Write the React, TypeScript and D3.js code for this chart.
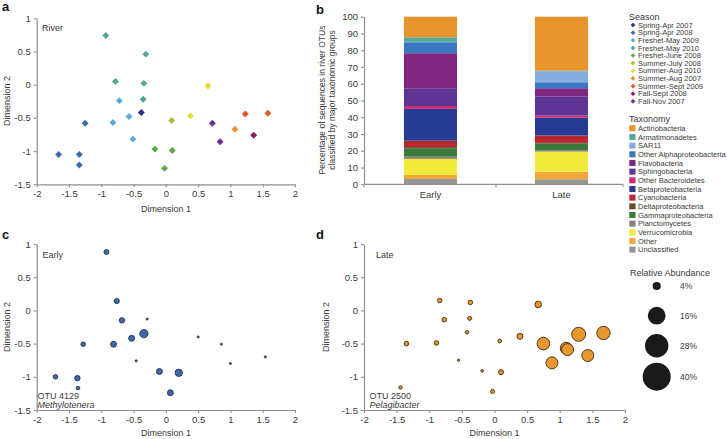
import React, { useEffect, useRef } from "react";
import * as d3 from "d3";

// ---------- Panel a: river samples (NMDS) ----------
const seasonNames = [
  "Spring-Apr 2007", "Spring-Apr 2008", "Freshet-May 2009", "Freshet-May 2010",
  "Freshet-June 2008", "Summer-July 2008", "Summer-Aug 2010", "Summer-Aug 2007",
  "Summer-Sept 2009", "Fall-Sept 2008", "Fall-Nov 2007",
];
const seasonColors = [
  "#2a2f86", "#3a6ab6", "#5aa8dc", "#4ea59a", "#5aab45", "#a9c23c",
  "#e6dc35", "#e8912d", "#e05a28", "#8a1f5e", "#6a2d96",
];
const riverDim1 = [-0.93, -0.31, -0.78, -0.34, -0.35, -0.72, -0.57, -0.82, -0.51, -0.38, -1.25, -1.66, -1.34, -1.34, 0.09, -0.17, 0.10, -0.02, 0.38, 0.65, 0.72, 0.84, 1.07, 1.23, 1.58, 1.36];
const riverDim2 = [0.74, 0.46, 0.05, 0.02, -0.22, -0.24, -0.48, -0.57, -0.82, -0.42, -0.58, -1.05, -1.05, -1.21, -0.54, -0.97, -0.99, -1.26, -0.47, -0.02, -0.58, -0.86, -0.67, -0.44, -0.43, -0.76];
const riverSeason = [3, 3, 3, 3, 3, 2, 2, 2, 2, 0, 1, 1, 1, 1, 5, 4, 4, 4, 6, 6, 10, 10, 7, 8, 8, 9];

// ---------- Panel b: taxonomy stacked bars ----------
const groups = ["Early", "Late"];
const taxa = [
  "Actinobacteria", "Armatimonadetes", "SAR11", "Other Alphaproteobacteria",
  "Flavobacteria", "Sphingobacteria", "Other Bacteroidetes", "Betaproteobacteria",
  "Cyanobacteria", "Deltaproteobacteria", "Gammaproteobacteria", "Planctomycetes",
  "Verrucomicrobia", "Other", "Unclassified",
];
const taxaColors = [
  "#e8952f", "#52a89a", "#86addf", "#3a78c4", "#82277f", "#5e3596", "#cf2a6c",
  "#263c94", "#b82830", "#6b4a2a", "#3a7a3a", "#8a7e76", "#f2ea3a", "#f0a83a", "#959595",
];
const earlyPct = [12.3, 2.7, 0.2, 6.6, 20.9, 10.6, 1.7, 19.0, 3.8, 0.7, 5.0, 1.3, 9.6, 2.4, 3.2];
const latePct = [32.2, 0.3, 6.6, 3.6, 4.9, 11.4, 1.3, 10.6, 4.4, 0.4, 4.0, 0.8, 12.0, 4.5, 3.0];
const pctTicks = [0, 10, 20, 30, 40, 50, 60, 70, 80, 90, 100];

// ---------- Panel c: OTU 4129 Methylotenera (Early) ----------
const earlyDim1 = [-0.92, -0.76, -0.68, -0.34, -0.53, -0.81, -1.28, -1.71, -1.37, -1.36, -0.10, 0.20, 0.07, -0.29, 0.50, 0.86, 1.00, 1.54, -0.46];
const earlyDim2 = [0.88, 0.14, -0.15, -0.35, -0.42, -0.51, -0.51, -1.0, -1.02, -1.17, -0.92, -0.94, -1.24, -0.13, -0.40, -0.51, -0.80, -0.70, -0.76];
const earlyAbund = [1.35, 1.45, 1.6, 3.8, 1.95, 1.95, 1.15, 1.15, 1.6, 0.7, 1.95, 2.96, 1.95, 0.25, 0.25, 0.25, 0.25, 0.25, 0.25];

// ---------- Panel d: OTU 2500 Pelagibacter (Late) ----------
const lateDim1 = [-0.84, -0.37, 0.67, -0.77, -0.38, -0.42, -1.35, -0.89, 0.08, 0.39, 0.75, 1.10, 1.12, 1.29, 1.67, 1.43, 0.88, -0.55, -0.19, 0.10, -0.03, -1.44];
const lateDim2 = [0.15, 0.12, 0.09, -0.14, -0.12, -0.33, -0.50, -0.49, -0.46, -0.39, -0.50, -0.57, -0.59, -0.36, -0.34, -0.68, -0.79, -0.75, -0.91, -0.93, -1.22, -1.16];
const lateAbund = [1.15, 1.15, 2.35, 1.15, 0.87, 0.62, 1.15, 1.15, 0.7, 1.95, 8.6, 7.8, 7.8, 10.6, 9.7, 7.8, 7.8, 0.3, 0.37, 1.35, 0.87, 0.62];

const abundLegend = [4, 16, 28, 40];
const dimTicksX = [-2, -1.5, -1, -0.5, 0, 0.5, 1, 1.5, 2];
const dimTicksY = [-1.5, -1, -0.5, 0, 0.5, 1];

const FONT = "'Liberation Sans', Arial, Helvetica, sans-serif";
const AXIS = "#8f8f8f";
const TXT = "#3a3a3a";

export default function App() {
  const ref = useRef<SVGSVGElement>(null);

  useEffect(() => {
    const svg = d3.select(ref.current);
    svg.selectAll("*").remove();
    svg.attr("font-family", FONT);

    const styleAxis = (g: any) => {
      g.attr("font-family", FONT).attr("font-size", 9.5);
      g.select(".domain").attr("stroke", AXIS).attr("stroke-width", 1.2);
      g.selectAll(".tick line").attr("stroke", AXIS).attr("stroke-width", 1.1);
      g.selectAll(".tick text").attr("fill", TXT);
    };

    const dimAxes = (x: any, y: any) => {
      const gx = svg.append("g").attr("transform", `translate(0,${y.range()[0]})`)
        .call(d3.axisBottom(x).tickValues(dimTicksX).tickSize(3).tickSizeOuter(0).tickFormat((d: any) => String(d)));
      styleAxis(gx);
      const gy = svg.append("g").attr("transform", `translate(${x.range()[0]},0)`)
        .call(d3.axisLeft(y).tickValues(dimTicksY).tickSize(3).tickSizeOuter(0).tickFormat((d: any) => String(d)));
      styleAxis(gy);
    };

    const text = (x: number, y: number, s: string, opts: any = {}) => {
      const t = svg.append("text").attr("x", x).attr("y", y).text(s)
        .attr("font-size", opts.size ?? 9).attr("fill", opts.fill ?? TXT)
        .attr("text-anchor", opts.anchor ?? "start");
      if (opts.bold) t.attr("font-weight", "bold");
      if (opts.italic) t.attr("font-style", "italic");
      if (opts.rotate) t.attr("transform", `rotate(-90,${x},${y})`);
      return t;
    };

    const rScale = (v: number) => 2.15 * Math.sqrt(v);
    const diamond = (size: number) => d3.symbol().type(d3.symbolSquare).size(size)();

    // ---------- Panel a ----------
    const xA = d3.scaleLinear().domain([-2, 2]).range([36.7, 295]);
    const yA = d3.scaleLinear().domain([-1.5, 1]).range([184.3, 18.3]);
    dimAxes(xA, yA);
    svg.append("g").selectAll("path").data(riverDim1).join("path")
      .attr("d", diamond(24))
      .attr("transform", (d, i) => `translate(${xA(d)},${yA(riverDim2[i])}) rotate(45)`)
      .attr("fill", (d, i) => seasonColors[riverSeason[i]]);
    text(2, 11, "a", { size: 13, bold: true, fill: "#111" });
    text(42, 31, "River", { size: 9 });
    text(166, 212, "Dimension 1", { size: 9, anchor: "middle" });
    text(10, 101, "Dimension 2", { size: 9, anchor: "middle", rotate: true });

    // ---------- Panel b ----------
    const yB = d3.scaleLinear().domain([0, 100]).range([184.3, 16.7]);
    const xB = d3.scaleBand().domain(groups).range([364, 623]).paddingInner(0.595).paddingOuter(0.286).align(0.533);
    const series = [earlyPct, latePct];
    groups.forEach((g, gi) => {
      const vals = series[gi];
      let cum = 0;
      for (let k = taxa.length - 1; k >= 0; k--) {
        const v0 = cum, v1 = cum + vals[k];
        cum = v1;
        if (vals[k] <= 0) continue;
        svg.append("rect").attr("x", xB(g)!).attr("width", xB.bandwidth())
          .attr("y", yB(v1)).attr("height", yB(v0) - yB(v1)).attr("fill", taxaColors[k]);
      }
    });
    const gyB = svg.append("g").attr("transform", "translate(364,0)")
      .call(d3.axisLeft(yB).tickValues(pctTicks).tickSize(3).tickSizeOuter(0));
    styleAxis(gyB);
    const bx0 = 364, bx1 = 623;
    const bMid = (xB("Late")! - (xB.step() * xB.paddingInner()) / 2 + xB("Early")! + xB.bandwidth() + (xB.step() * xB.paddingInner()) / 2) / 2;
    svg.append("line").attr("x1", bx0).attr("x2", bx1).attr("y1", yB(0)).attr("y2", yB(0))
      .attr("stroke", AXIS).attr("stroke-width", 1.2);
    [bx0, bMid, bx1].forEach((tx) => {
      svg.append("line").attr("x1", tx).attr("x2", tx).attr("y1", yB(0)).attr("y2", yB(0) + 3)
        .attr("stroke", AXIS).attr("stroke-width", 1.1);
    });
    groups.forEach((g) => text(xB(g)! + xB.bandwidth() / 2, 197.5, g, { size: 9.5, anchor: "middle" }));
    text(316, 14, "b", { size: 13, bold: true, fill: "#111" });
    text(325, 100, "Percentage of sequences in river OTUs", { size: 8.5, anchor: "middle", rotate: true });
    text(335, 100, "classified by major taxonomic groups", { size: 8.5, anchor: "middle", rotate: true });

    // ---------- Legends ----------
    text(629, 19.5, "Season", { size: 9 });
    seasonNames.forEach((s, i) => {
      const cy = 25 + i * 7.63;
      svg.append("path").attr("d", diamond(11))
        .attr("transform", `translate(633,${cy}) rotate(45)`).attr("fill", seasonColors[i]);
      text(638, cy + 2.7, s, { size: 7.5 });
    });
    text(629, 122, "Taxonomy", { size: 9 });
    taxa.forEach((s, i) => {
      const cy = 128.3 + i * 8.67;
      svg.append("rect").attr("x", 629.3).attr("y", cy - 3).attr("width", 6.2).attr("height", 6)
        .attr("fill", taxaColors[i]);
      text(638, cy + 2.7, s, { size: 7.5 });
    });
    text(630, 276, "Relative Abundance", { size: 9 });
    const legY = [286, 315.7, 345.7, 376.7];
    abundLegend.forEach((v, i) => {
      svg.append("circle").attr("cx", 656.7).attr("cy", legY[i]).attr("r", rScale(v) * (i === 0 ? 0.95 : 1.03))
        .attr("fill", "#1a1a1a");
      text(680, legY[i] + 3, `${v}%`, { size: 8.5 });
    });

    // ---------- Panel c ----------
    const xC = d3.scaleLinear().domain([-2, 2]).range([36.7, 295]);
    const yC = d3.scaleLinear().domain([-1.5, 1]).range([410, 244]);
    dimAxes(xC, yC);
    svg.append("g").selectAll("circle").data(earlyDim1).join("circle")
      .attr("cx", (d) => xC(d)).attr("cy", (d, i) => yC(earlyDim2[i]))
      .attr("r", (d, i) => rScale(earlyAbund[i]))
      .attr("fill", "#3f67ad").attr("stroke", "#1b2740").attr("stroke-width", 0.8);
    text(2, 239, "c", { size: 13, bold: true, fill: "#111" });
    text(42.5, 257.5, "Early", { size: 9 });
    text(37.5, 398.5, "OTU 4129", { size: 9 });
    text(37.5, 407.5, "Methylotenera", { size: 9, italic: true });
    text(166, 436, "Dimension 1", { size: 9, anchor: "middle" });
    text(10, 327, "Dimension 2", { size: 9, anchor: "middle", rotate: true });

    // ---------- Panel d ----------
    const xD = d3.scaleLinear().domain([-2, 2]).range([364, 625]);
    const yD = d3.scaleLinear().domain([-1.5, 1]).range([410, 244]);
    dimAxes(xD, yD);
    svg.append("g").selectAll("circle").data(lateDim1).join("circle")
      .attr("cx", (d) => xD(d)).attr("cy", (d, i) => yD(lateDim2[i]))
      .attr("r", (d, i) => rScale(lateAbund[i]))
      .attr("fill", "#e8962e").attr("stroke", "#3e2a10").attr("stroke-width", 0.9);
    text(316, 239, "d", { size: 13, bold: true, fill: "#111" });
    text(376, 257.5, "Late", { size: 9 });
    text(369.5, 398.5, "OTU 2500", { size: 9 });
    text(369.5, 407.5, "Pelagibacter", { size: 9, italic: true });
    text(494.5, 436, "Dimension 1", { size: 9, anchor: "middle" });
    text(329, 327, "Dimension 2", { size: 9, anchor: "middle", rotate: true });
  }, []);

  return (
    <svg ref={ref} width={727} height={439}
      style={{ position: "absolute", left: 0, top: 0, background: "#fff" }} />
  );
}
